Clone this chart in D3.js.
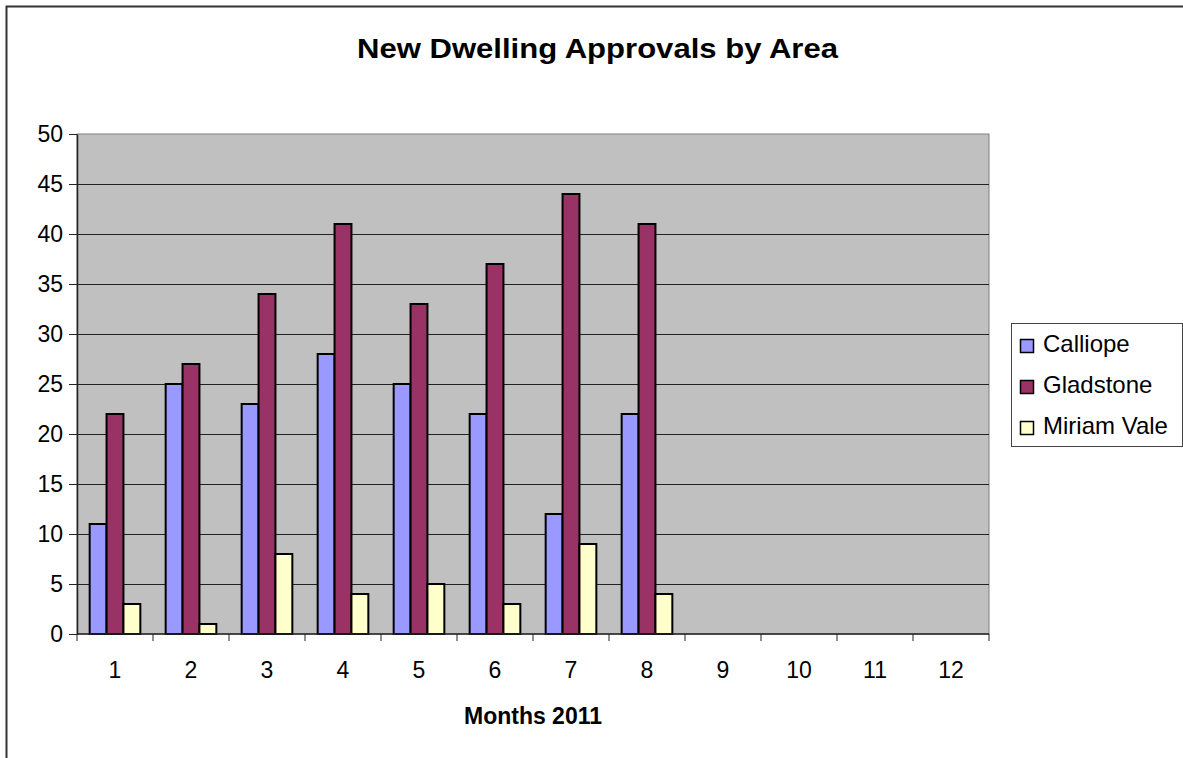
<!DOCTYPE html>
<html>
<head>
<meta charset="utf-8">
<script src="https://cdn.jsdelivr.net/npm/d3@7"></script>
<style>
  body { margin: 0; background: #fff; }
  text { font-family: "Liberation Sans", Arial, sans-serif; }
</style>
</head>
<body>
<div id="chart"></div>
<script>
// chart data
var months = ["1", "2", "3", "4", "5", "6", "7", "8", "9", "10", "11", "12"];
var seriesNames = ["Calliope", "Gladstone", "Miriam Vale"];
var calliope = [11, 25, 23, 28, 25, 22, 12, 22, null, null, null, null];
var gladstone = [22, 27, 34, 41, 33, 37, 44, 41, null, null, null, null];
var miriamVale = [3, 1, 8, 4, 5, 3, 9, 4, null, null, null, null];
var yTicks = [0, 5, 10, 15, 20, 25, 30, 35, 40, 45, 50];

var colors = ["#9999ff", "#993366", "#ffffcc"];
var seriesValues = [calliope, gladstone, miriamVale];

var W = 1183, H = 758;
var margin = {top: 134, left: 77, right: 194, bottom: 124};
var width = W - margin.left - margin.right,
    height = H - margin.top - margin.bottom;

var svg = d3.select("#chart")
  .append("svg")
    .attr("width", W)
    .attr("height", H);

// outer chart border
svg.append("rect")
  .attr("x", 6.5).attr("y", 6.5)
  .attr("width", W + 10).attr("height", H + 10)
  .attr("fill", "none")
  .attr("stroke", "#333")
  .attr("stroke-width", 2);

var g = svg.append("g")
  .attr("transform", "translate(" + margin.left + "," + margin.top + ")");

// scales
var x = d3.scaleBand().domain(months).range([0, width]).padding(0);
var y = d3.scaleLinear().domain([0, 50]).range([height, 0]);

// bars use excel-ish gap width 150%
var barW = x.step() / 4.5;
var groupOffset = x.step() * 0.75 / 4.5;

// plot background
g.append("rect")
  .attr("width", width)
  .attr("height", height)
  .attr("fill", "#c0c0c0")
  .attr("stroke", "#808080")
  .attr("stroke-width", 1);

// gridlines
g.selectAll(".grid")
  .data(yTicks.filter(function(d) { return d > 0 && d < 50; }))
  .enter().append("line")
    .attr("x1", 0).attr("x2", width)
    .attr("y1", function(d) { return Math.round(y(d)) + 0.5; })
    .attr("y2", function(d) { return Math.round(y(d)) + 0.5; })
    .attr("stroke", "#222")
    .attr("stroke-width", 1);

// bars
seriesValues.forEach(function(vals, si) {
  var rows = months.map(function(m, i) { return {m: m, v: vals[i]}; })
    .filter(function(d) { return d.v != null; });
  g.selectAll(".bar" + si)
    .data(rows)
    .enter().append("rect")
      .attr("x", function(d) { return x(d.m) + groupOffset + si * barW; })
      .attr("y", function(d) { return y(d.v); })
      .attr("width", barW)
      .attr("height", function(d) { return height - y(d.v); })
      .attr("fill", colors[si])
      .attr("stroke", "#000")
      .attr("stroke-width", 2);
});

// y axis
var yAxis = g.append("g")
  .call(d3.axisLeft(y).tickValues(yTicks).tickSize(8).tickPadding(6).tickSizeOuter(0));
yAxis.select(".domain").attr("stroke", "#222").attr("stroke-width", 1.5);
yAxis.selectAll(".tick line").attr("stroke", "#222");
yAxis.selectAll("text")
  .style("font-size", "23px")
  .attr("fill", "#000");

// x axis with ticks between categories
var xg = g.append("g").attr("transform", "translate(0," + height + ")");
xg.append("line")
  .attr("x1", 0).attr("x2", width)
  .attr("stroke", "#222").attr("stroke-width", 1.5);
xg.selectAll(".xtick")
  .data(months.concat(["end"]))
  .enter().append("line")
    .attr("x1", function(d, i) { return i * x.step(); })
    .attr("x2", function(d, i) { return i * x.step(); })
    .attr("y1", 0).attr("y2", 7)
    .attr("stroke", "#222");
xg.selectAll(".xlabel")
  .data(months)
  .enter().append("text")
    .attr("x", function(d) { return x(d) + x.bandwidth() / 2; })
    .attr("y", 44)
    .attr("text-anchor", "middle")
    .style("font-size", "23px")
    .text(function(d) { return d; });

// title
svg.append("text")
  .attr("x", 597.5)
  .attr("y", 58)
  .attr("text-anchor", "middle")
  .attr("textLength", 481)
  .attr("lengthAdjust", "spacingAndGlyphs")
  .style("font-size", "28px")
  .style("font-weight", "bold")
  .text("New Dwelling Approvals by Area");

// x axis title
svg.append("text")
  .attr("x", margin.left + width / 2)
  .attr("y", 724)
  .attr("text-anchor", "middle")
  .style("font-size", "23px")
  .style("font-weight", "bold")
  .text("Months 2011");

// legend
var legend = svg.append("g").attr("transform", "translate(1011,323)");
legend.append("rect")
  .attr("x", 0.5).attr("y", 0.5)
  .attr("width", 171).attr("height", 123)
  .attr("fill", "#fff")
  .attr("stroke", "#444");
seriesNames.forEach(function(name, i) {
  legend.append("rect")
    .attr("x", 9.5).attr("y", 16.5 + i * 41)
    .attr("width", 13).attr("height", 13)
    .attr("fill", colors[i])
    .attr("stroke", "#000")
    .attr("stroke-width", 1.5);
  legend.append("text")
    .attr("x", 32)
    .attr("y", 29 + i * 41)
    .style("font-size", "24px")
    .text(name);
});
</script>
</body>
</html>
